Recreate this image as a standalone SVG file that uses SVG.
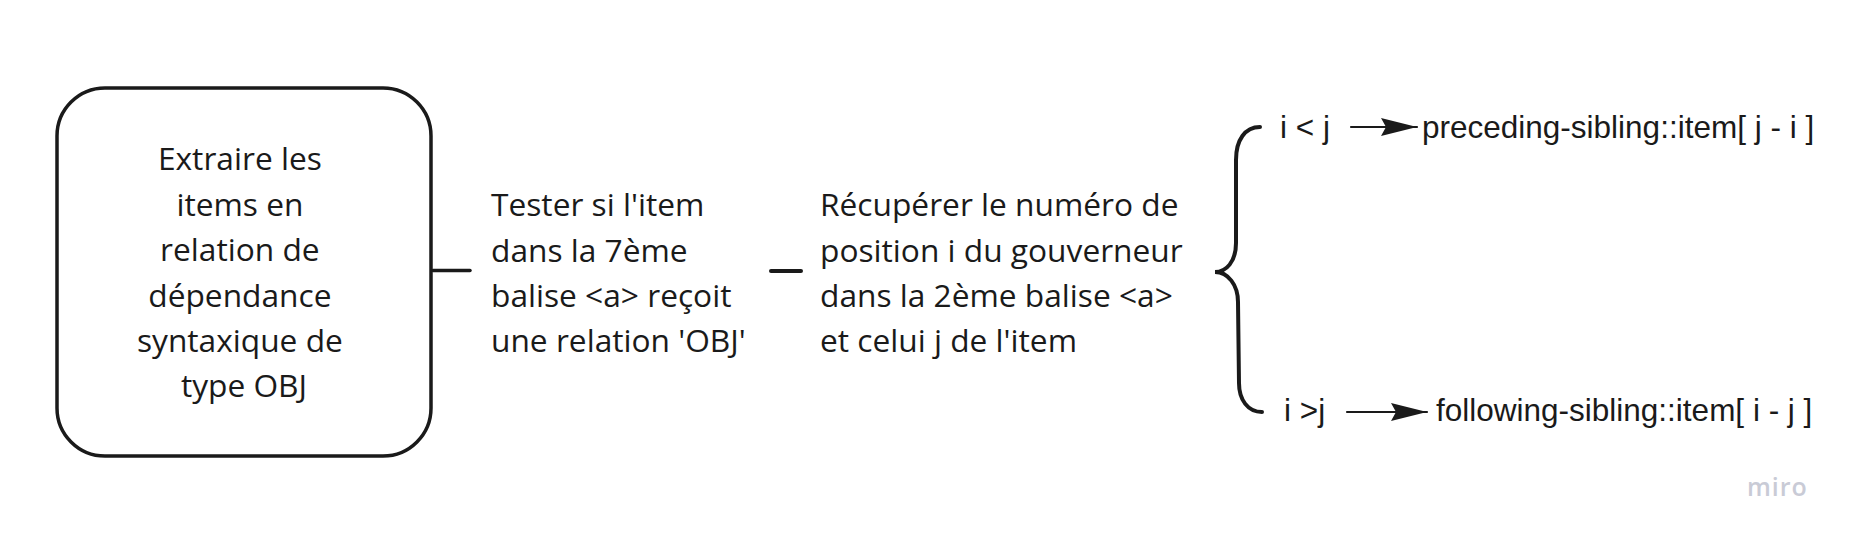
<svg xmlns="http://www.w3.org/2000/svg" width="1850" height="540" viewBox="0 0 1850 540">
<defs>
<style>
.os{font-family:"Open Sans","Noto Sans",sans-serif;font-size:31.7px;fill:#1a1a1a;}
.ar{font-family:"Liberation Sans",Arial,sans-serif;font-size:31.5px;fill:#1a1a1a;}
.ln{stroke:#1a1a1a;fill:none;stroke-linecap:round;}
</style>
<marker id="ah" viewBox="0 0 36 18" refX="36" refY="9" markerWidth="36" markerHeight="18" markerUnits="userSpaceOnUse" orient="auto">
<path d="M0,0 L36,9 L0,18 L5,9 z" fill="#1a1a1a"/>
</marker>
</defs>
<rect width="1850" height="540" fill="#ffffff"/>
<g id="node-extract">
<rect x="57" y="88" width="374" height="368" rx="48" ry="48" fill="#ffffff" stroke="#1a1a1a" stroke-width="3.5"/>
<text class="os" text-anchor="middle">
<tspan x="244" y="170">Extraire les</tspan>
<tspan x="244" y="215.5">items en</tspan>
<tspan x="244" y="261">relation de</tspan>
<tspan x="244" y="306.5">dépendance</tspan>
<tspan x="244" y="352">syntaxique de</tspan>
<tspan x="244" y="397">type OBJ</tspan>
</text>
</g>
<g id="node-tester">
<text class="os">
<tspan x="491" y="216">Tester si l'item</tspan>
<tspan x="491" y="261.5">dans la 7ème</tspan>
<tspan x="491" y="307">balise &lt;a&gt; reçoit</tspan>
<tspan x="491" y="352">une relation 'OBJ'</tspan>
</text>
</g>
<g id="node-recuperer">
<text class="os">
<tspan x="820" y="216">Récupérer le numéro de</tspan>
<tspan x="820" y="261.5">position i du gouverneur</tspan>
<tspan x="820" y="307">dans la 2ème balise &lt;a&gt;</tspan>
<tspan x="820" y="352">et celui j de l'item</tspan>
</text>
</g>
<g id="node-ilj">
<text class="ar" x="1280" y="138">i &lt; j</text>
</g>
<g id="node-preceding">
<text class="ar" x="1422" y="138">preceding-sibling::item[ j - i ]</text>
</g>
<g id="node-igj">
<text class="ar" x="1284" y="421">i &gt;j</text>
</g>
<g id="node-following">
<text class="ar" x="1436" y="421">following-sibling::item[ i - j ]</text>
</g>
<g id="connectors">
<line class="ln" x1="433" y1="270.5" x2="470" y2="270.5" stroke-width="3.5" stroke-linecap="butt"/>
<line class="ln" x1="771" y1="271" x2="801" y2="271" stroke-width="4"/>
<path class="ln" stroke-width="4" d="M1260,127 C1245,127 1236,140 1236,160 L1236,243 C1236,262 1226,272 1215,272 C1228,272 1238,285 1238,302 L1239,383 C1239,400 1248,412 1262,412"/>
<line class="ln" x1="1351" y1="127" x2="1417" y2="127" stroke-width="2.2" stroke-linecap="butt" marker-end="url(#ah)"/>
<line class="ln" x1="1347" y1="412" x2="1427" y2="412" stroke-width="2.2" stroke-linecap="butt" marker-end="url(#ah)"/>
</g>
<text x="1747" y="496" font-family="'Open Sans','Noto Sans',sans-serif" font-size="25" font-weight="600" fill="#c9cbd6" letter-spacing="1">miro</text>
</svg>
